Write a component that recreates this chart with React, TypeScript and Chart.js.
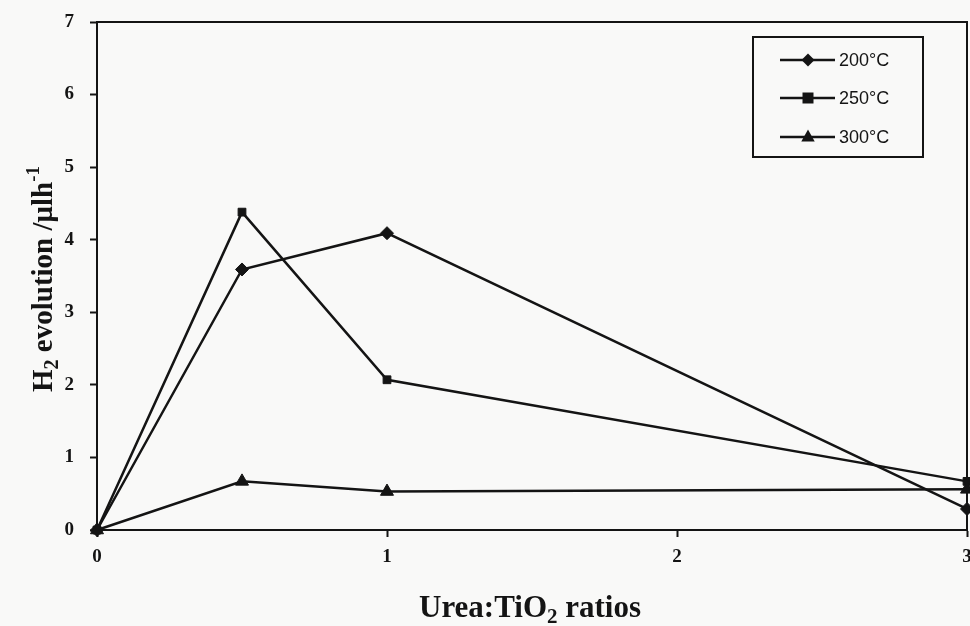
import React, { useEffect, useRef } from "react";
import { Chart, registerables } from "chart.js";

Chart.register(...registerables);

const xValues = [0, 0.5, 1, 3];
const series200 = [0, 3.59, 4.09, 0.29];
const series250 = [0, 4.38, 2.07, 0.67];
const series300 = [0, 0.67, 0.53, 0.56];
const seriesLabels = ["200°C", "250°C", "300°C"];
const seriesStyles = ["rectRot", "rect", "triangle"];
const xTickValues = [0, 1, 2, 3];
const yTickValues = [0, 1, 2, 3, 4, 5, 6, 7];

const INK = "#141414";
const SERIF = "'Liberation Serif', 'Times New Roman', serif";
const SANS = "'Liberation Sans', Arial, sans-serif";

type Part = { t: string; size: number; dy?: number };

function drawRich(ctx: CanvasRenderingContext2D, parts: Part[], cx: number, cy: number) {
  let total = 0;
  const widths = parts.map((p) => {
    ctx.font = `bold ${p.size}px ${SERIF}`;
    const w = ctx.measureText(p.t).width;
    total += w;
    return w;
  });
  let x = cx - total / 2;
  ctx.textAlign = "left";
  ctx.textBaseline = "alphabetic";
  parts.forEach((p, i) => {
    ctx.font = `bold ${p.size}px ${SERIF}`;
    ctx.fillText(p.t, x, cy + (p.dy || 0));
    x += widths[i];
  });
}

function drawMarker(ctx: CanvasRenderingContext2D, style: string, x: number, y: number) {
  ctx.beginPath();
  if (style === "rectRot") {
    const r = 6.5;
    ctx.moveTo(x, y - r);
    ctx.lineTo(x + r, y);
    ctx.lineTo(x, y + r);
    ctx.lineTo(x - r, y);
  } else if (style === "rect") {
    const r = 5.5;
    ctx.rect(x - r, y - r, 2 * r, 2 * r);
  } else {
    const r = 7.5;
    ctx.moveTo(x, y - r);
    ctx.lineTo(x + r * 0.9, y + r * 0.6);
    ctx.lineTo(x - r * 0.9, y + r * 0.6);
  }
  ctx.closePath();
  ctx.fill();
}

const decorPlugin = {
  id: "decor",
  beforeDraw(chart: any) {
    const ctx = chart.ctx as CanvasRenderingContext2D;
    ctx.save();
    ctx.fillStyle = "#f9f9f8";
    ctx.fillRect(0, 0, chart.width, chart.height);
    ctx.restore();
  },
  afterDraw(chart: any) {
    const ctx = chart.ctx as CanvasRenderingContext2D;
    const a = chart.chartArea;
    ctx.save();
    // frame top/right
    ctx.strokeStyle = INK;
    ctx.lineWidth = 2;
    ctx.beginPath();
    ctx.moveTo(a.left - 1, a.top);
    ctx.lineTo(a.right, a.top);
    ctx.lineTo(a.right, a.bottom);
    ctx.stroke();

    // x tick labels, placed through the x scale
    const xs = chart.scales.x;
    ctx.fillStyle = INK;
    ctx.font = `bold 19px ${SERIF}`;
    ctx.textAlign = "center";
    ctx.textBaseline = "middle";
    xTickValues.forEach((v) => {
      ctx.fillText(String(v), xs.getPixelForValue(v), a.bottom + 27);
    });

    // axis titles
    drawRich(
      ctx,
      [
        { t: "Urea:TiO", size: 31 },
        { t: "2", size: 21, dy: 6 },
        { t: " ratios", size: 31 },
      ],
      530,
      617
    );
    ctx.save();
    ctx.translate(52, 279);
    ctx.rotate(-Math.PI / 2);
    drawRich(
      ctx,
      [
        { t: "H", size: 29 },
        { t: "2", size: 20, dy: 6 },
        { t: " evolution /μlh", size: 29 },
        { t: "-1", size: 19, dy: -13 },
      ],
      0,
      0
    );
    ctx.restore();

    // legend
    ctx.lineWidth = 2;
    ctx.strokeStyle = INK;
    ctx.strokeRect(753, 37, 170, 120);
    const ys = [60, 98, 137];
    seriesLabels.forEach((label, i) => {
      const y = ys[i];
      ctx.lineWidth = 2.5;
      ctx.beginPath();
      ctx.moveTo(780, y);
      ctx.lineTo(835, y);
      ctx.stroke();
      ctx.fillStyle = INK;
      drawMarker(ctx, seriesStyles[i], 808, y);
      ctx.font = `18px ${SANS}`;
      ctx.textAlign = "left";
      ctx.textBaseline = "middle";
      ctx.fillText(label, 839, y + 1);
    });
    ctx.restore();
  },
};

export default function App() {
  const ref = useRef<HTMLCanvasElement>(null);
  useEffect(() => {
    document.body.style.margin = "0";
    const mk = (vals: number[], i: number) => ({
      label: seriesLabels[i],
      data: xValues.map((x, k) => ({ x, y: vals[k] })),
      borderColor: INK,
      backgroundColor: INK,
      borderWidth: 2.5,
      pointStyle: seriesStyles[i] as any,
      pointRadius: i === 0 ? 6.5 : i === 1 ? 5.5 : 7.5,
      pointBorderWidth: 1,
      pointBackgroundColor: INK,
      pointBorderColor: INK,
      tension: 0,
      clip: false as any,
    });
    const chart = new Chart(ref.current as HTMLCanvasElement, {
      type: "line",
      data: {
        // drawing order: 300°C, 200°C, then 250°C on top
        datasets: [mk(series300, 2), mk(series200, 0), mk(series250, 1)],
      },
      options: {
        responsive: false,
        animation: false,
        devicePixelRatio: 1,
        layout: { autoPadding: false, padding: { top: 22, right: 3, left: 0, bottom: 0 } },
        plugins: { legend: { display: false }, tooltip: { enabled: false } },
        scales: {
          x: {
            type: "linear",
            min: 0,
            max: 3,
            afterFit: (s: any) => {
              s.height = 96;
              s.paddingLeft = 0;
              s.paddingRight = 0;
            },
            afterBuildTicks: (s: any) => {
              s.ticks = xTickValues.map((v) => ({ value: v }));
            },
            ticks: { display: false },
            grid: { drawOnChartArea: false, tickLength: 7, tickColor: INK, tickWidth: 2 },
            border: { color: INK, width: 2 },
          },
          y: {
            type: "linear",
            min: 0,
            max: 7,
            afterFit: (s: any) => {
              s.width = 97;
              s.paddingTop = 0;
              s.paddingBottom = 0;
            },
            afterBuildTicks: (s: any) => {
              s.ticks = yTickValues.map((v) => ({ value: v }));
            },
            ticks: {
              color: INK,
              font: { family: SERIF, size: 19, weight: "bold" },
              padding: 16,
              autoSkip: false,
              callback: (v: any) => String(v),
            },
            grid: { drawOnChartArea: false, tickLength: 7, tickColor: INK, tickWidth: 2 },
            border: { color: INK, width: 2 },
          },
        },
      },
      plugins: [decorPlugin],
    });
    return () => chart.destroy();
  }, []);
  return (
    <div style={{ width: 970, height: 626, position: "relative" }}>
      <canvas ref={ref} width={970} height={626} style={{ display: "block" }} />
    </div>
  );
}
